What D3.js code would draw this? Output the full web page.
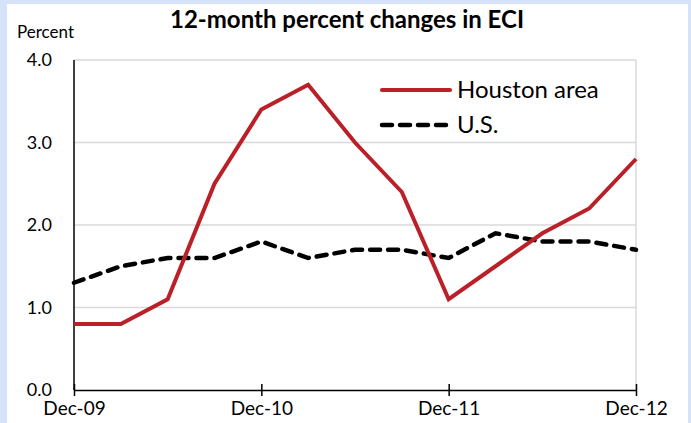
<!DOCTYPE html>
<html>
<head>
<meta charset="utf-8">
<script src="https://cdn.jsdelivr.net/npm/d3@7"></script>
<style>
  body { margin: 0; background: #d6e2f9; }
  svg { display: block; font-family: Lato, "Open Sans", sans-serif; }
</style>
</head>
<body>
<div class="chart"></div>
<script>
let quarters = ["Dec-09", "Mar-10", "Jun-10", "Sep-10", "Dec-10", "Mar-11", "Jun-11",
  "Sep-11", "Dec-11", "Mar-12", "Jun-12", "Sep-12", "Dec-12"]
let houston = [0.8, 0.8, 1.1, 2.5, 3.4, 3.7, 3.0, 2.4, 1.1, 1.5, 1.9, 2.2, 2.8]
let us = [1.3, 1.5, 1.6, 1.6, 1.8, 1.6, 1.7, 1.7, 1.6, 1.9, 1.8, 1.8, 1.7]
let xTickLabels = ["Dec-09", "Dec-10", "Dec-11", "Dec-12"]
let yTicks = [0, 1, 2, 3, 4]

let width = 691
let height = 423
let margin = { top: 60, right: 55, bottom: 33, left: 74 }

let svg = d3.select(".chart")
  .append("svg")
  .attr("width", width)
  .attr("height", height)

// white panel on light blue page
svg.append("rect")
  .attr("x", 7).attr("y", 4)
  .attr("width", 681).attr("height", height - 4)
  .attr("fill", "#fff")

let x = d3.scalePoint()
  .domain(quarters)
  .range([margin.left, width - margin.right])

let y = d3.scaleLinear()
  .domain([0, 4])
  .range([height - margin.bottom, margin.top])

// gridlines
svg.append("g")
  .selectAll("line")
  .data(yTicks.slice(1))
  .enter()
  .append("line")
  .attr("x1", margin.left)
  .attr("x2", width - margin.right)
  .attr("y1", d => y(d))
  .attr("y2", d => y(d))
  .attr("stroke", "#d9d9d9")
  .attr("stroke-width", 1.5)

// right border
svg.append("line")
  .attr("x1", width - margin.right).attr("x2", width - margin.right)
  .attr("y1", y(4)).attr("y2", y(0))
  .attr("stroke", "#d9d9d9")
  .attr("stroke-width", 1.5)

// y axis labels
svg.append("g")
  .selectAll("text")
  .data(yTicks)
  .enter()
  .append("text")
  .attr("x", 52)
  .attr("y", d => y(d))
  .attr("dy", "0.35em")
  .attr("text-anchor", "end")
  .attr("font-size", 18)
  .attr("fill", "#000")
  .text(d => d.toFixed(1))

// y axis line
svg.append("line")
  .attr("x1", margin.left).attr("x2", margin.left)
  .attr("y1", y(4)).attr("y2", y(0))
  .attr("stroke", "#000")
  .attr("stroke-width", 1.5)

// x axis
let xAxis = d3.axisBottom(x)
  .tickValues(xTickLabels)
  .tickSize(0)
  .tickPadding(12)

let gx = svg.append("g")
  .attr("transform", `translate(0,${y(0)})`)
  .call(xAxis)
gx.select(".domain").attr("stroke", "#000").attr("stroke-width", 1.5)
gx.selectAll(".tick line")
  .attr("y1", -6).attr("y2", 6)
  .attr("stroke", "#000").attr("stroke-width", 1.5)
gx.selectAll(".tick text")
  .attr("font-family", "Lato, 'Open Sans', sans-serif")
  .attr("font-size", 19)
  .attr("fill", "#000")

let line = d3.line()
  .x((d, i) => x(quarters[i]))
  .y(d => y(d))

svg.append("path")
  .datum(us)
  .attr("d", line)
  .attr("fill", "none")
  .attr("stroke", "#000")
  .attr("stroke-width", 4.5)
  .attr("stroke-dasharray", "10,8")
  .attr("stroke-linecap", "round")

svg.append("path")
  .datum(houston)
  .attr("d", line)
  .attr("fill", "none")
  .attr("stroke", "#bb2028")
  .attr("stroke-width", 4)

// legend
let legend = [
  { name: "Houston area", color: "#bb2028", dash: null, y: 90 },
  { name: "U.S.", color: "#000", dash: "10,8", y: 125 }
]
let lg = svg.append("g")
  .selectAll("g")
  .data(legend)
  .enter()
  .append("g")
lg.append("line")
  .attr("x1", 382).attr("x2", 450)
  .attr("y1", d => d.y).attr("y2", d => d.y)
  .attr("stroke", d => d.color)
  .attr("stroke-width", d => d.dash ? 4.5 : 4)
  .attr("stroke-dasharray", d => d.dash)
  .attr("stroke-linecap", "round")
lg.append("text")
  .attr("x", 457)
  .attr("y", d => d.y)
  .attr("dy", "0.35em")
  .attr("font-size", 24)
  .text(d => d.name)

// titles
svg.append("text")
  .attr("x", 347)
  .attr("y", 28)
  .attr("text-anchor", "middle")
  .attr("font-size", 24)
  .attr("font-weight", "bold")
  .text("12-month percent changes in ECI")

svg.append("text")
  .attr("x", 17)
  .attr("y", 38)
  .attr("font-size", 17)
  .text("Percent")
</script>
</body>
</html>
